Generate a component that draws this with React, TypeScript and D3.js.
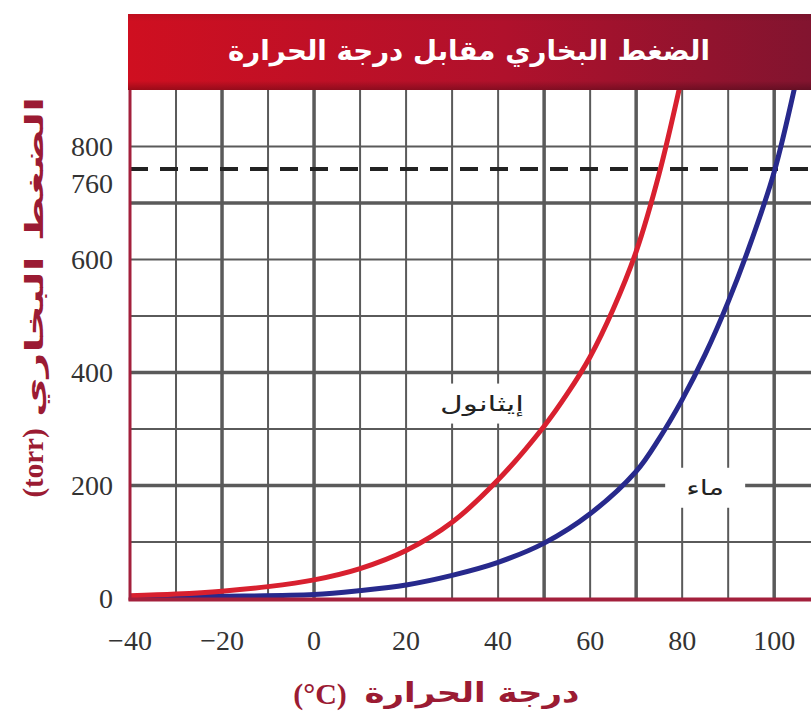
import React from "react";
import * as d3 from "d3";

// ---- data ----
const ethanolTemps = [-40, -30, -20, -10, 0, 10, 20, 30, 40, 50, 55, 60, 65, 70, 75, 80];
const ethanolPress = [5, 8, 13, 21, 33, 53, 85, 135, 210, 305, 362, 428, 512, 614, 752, 925];
const waterTemps = [-40, -20, 0, 10, 20, 30, 40, 50, 60, 70, 75, 80, 85, 90, 95, 100, 105];
const waterPress = [3, 4, 7, 14, 24, 41, 64, 98, 150, 225, 283, 352, 432, 525, 632, 755, 925];

const xTicks = [-40, -20, 0, 20, 40, 60, 80, 100];
const xTickLabels = ["−40", "−20", "0", "20", "40", "60", "80", "100"];
const yTicks = [0, 200, 400, 600, 760, 800];
const yTickLabels = ["0", "200", "400", "600", "760", "800"];
const xGrid = [-30, -20, -10, 0, 10, 20, 30, 40, 50, 60, 70, 80, 90, 100];
const xGridThick = [-20, 0, 50, 70, 100];
const yGrid = [100, 200, 300, 400, 500, 600, 700, 800];
const yGridThick = [200, 400, 700];
const boilingLine = 760;

const title = "الضغط البخاري مقابل درجة الحرارة";
const yTitleArabic = "الضغط البخاري";
const yTitleUnit = "(torr)";
const xTitleArabic = "درجة الحرارة";
const xTitleUnit = "(°C)";
const ethanolLabel = "إيثانول";
const waterLabel = "ماء";
const ethanolLabelAt = [36.5, 345];
const waterLabelAt = [85, 196];

export default function App() {
  const W = 811;
  const H = 721;
  const left = 130;
  const right = 811;
  const top = 90;
  const bottom = 598.5;

  const x = d3.scaleLinear().domain([-40, 108]).range([left, right]);
  const y = d3.scaleLinear().domain([0, 900]).range([bottom, top]);

  const line = d3
    .line<[number, number]>()
    .x((d) => x(d[0]))
    .y((d) => y(d[1]))
    .curve(d3.curveCatmullRom.alpha(0.5));

  const eth = ethanolTemps.map((t, i) => [t, ethanolPress[i]] as [number, number]);
  const wat = waterTemps.map((t, i) => [t, waterPress[i]] as [number, number]);

  const gridColor = "#5a5a5a";
  const border = "#a3203c";
  const dark = "#9b1b33";
  const arabic = "'DejaVu Sans', 'Noto Sans', sans-serif";
  const serif = "'Liberation Serif', 'DejaVu Serif', serif";

  const ex = x(ethanolLabelAt[0]);
  const ey = y(ethanolLabelAt[1]);
  const wx = x(waterLabelAt[0]);
  const wy = y(waterLabelAt[1]);

  return (
    <svg
      width={W}
      height={H}
      style={{ position: "absolute", left: 0, top: 0, background: "#fff" }}
    >
      <defs>
        <linearGradient id="tbar" x1="0" x2="1" y1="0" y2="0">
          <stop offset="0%" stopColor="#cf0f20" />
          <stop offset="55%" stopColor="#b0112c" />
          <stop offset="100%" stopColor="#82142f" />
        </linearGradient>
        <linearGradient id="tshade" x1="0" x2="0" y1="0" y2="1">
          <stop offset="0%" stopColor="#000" stopOpacity="0.08" />
          <stop offset="10%" stopColor="#000" stopOpacity="0" />
          <stop offset="88%" stopColor="#000" stopOpacity="0" />
          <stop offset="100%" stopColor="#000" stopOpacity="0.25" />
        </linearGradient>
        <clipPath id="plotclip">
          <rect x={left} y={top} width={right - left} height={bottom - top} />
        </clipPath>
      </defs>

      {/* grid */}
      <g>
        {xGrid.map((v) => (
          <line
            key={"vx" + v}
            x1={x(v)}
            x2={x(v)}
            y1={top}
            y2={bottom}
            stroke={gridColor}
            strokeWidth={xGridThick.includes(v) ? 3.5 : 2}
          />
        ))}
        {yGrid.map((v) => (
          <line
            key={"hy" + v}
            x1={left}
            x2={right}
            y1={y(v)}
            y2={y(v)}
            stroke={gridColor}
            strokeWidth={yGridThick.includes(v) ? 3.5 : 2}
          />
        ))}
        <line
          x1={left}
          x2={right}
          y1={y(boilingLine)}
          y2={y(boilingLine)}
          stroke="#222"
          strokeWidth={4}
          strokeDasharray="18 12"
        />
      </g>

      {/* label backgrounds */}
      <rect x={ex - 47} y={ey - 20} width={94} height={40} fill="#fff" />
      <rect x={wx - 40} y={wy - 20} width={80} height={40} fill="#fff" />

      {/* curves */}
      <g clipPath="url(#plotclip)">
        <path d={line(wat) || ""} fill="none" stroke="#27298c" strokeWidth={5} />
        <path d={line(eth) || ""} fill="none" stroke="#d8202f" strokeWidth={5} />
      </g>

      {/* plot border */}
      <line x1={left} x2={left} y1={top} y2={bottom + 2} stroke={border} strokeWidth={3} />
      <line x1={left - 1.5} x2={right} y1={bottom + 1} y2={bottom + 1} stroke={border} strokeWidth={4} />

      {/* title bar */}
      <rect x={128} y={14} width={W - 128} height={top - 14} fill="url(#tbar)" />
      <rect x={128} y={14} width={W - 128} height={top - 14} fill="url(#tshade)" />
      <text
        x={469}
        y={50}
        fill="#fff"
        fontFamily={arabic}
        fontWeight="bold"
        fontSize={27}
        textAnchor="middle"
        dominantBaseline="central"
        direction="rtl"
        textLength={482}
        lengthAdjust="spacingAndGlyphs"
      >
        {title}
      </text>

      {/* curve labels */}
      <text
        x={ex}
        y={ey}
        fill="#222"
        fontFamily={arabic}
        fontSize={21}
        textAnchor="middle"
        dominantBaseline="central"
        direction="rtl"
        textLength={84}
        lengthAdjust="spacingAndGlyphs"
      >
        {ethanolLabel}
      </text>
      <text
        x={wx}
        y={wy}
        fill="#222"
        fontFamily={arabic}
        fontSize={21}
        textAnchor="middle"
        dominantBaseline="central"
        direction="rtl"
        textLength={38}
        lengthAdjust="spacingAndGlyphs"
      >
        {waterLabel}
      </text>

      {/* y tick labels */}
      {yTicks.map((v, i) => (
        <text
          key={"yt" + v}
          x={113}
          y={y(v) + (v === 760 ? 14 : 0)}
          fill="#333"
          fontFamily={serif}
          fontSize={28}
          textAnchor="end"
          dominantBaseline="central"
        >
          {yTickLabels[i]}
        </text>
      ))}

      {/* x tick labels */}
      {xTicks.map((v, i) => (
        <text
          key={"xt" + v}
          x={x(v)}
          y={650}
          fill="#333"
          fontFamily={serif}
          fontSize={28}
          textAnchor="middle"
        >
          {xTickLabels[i]}
        </text>
      ))}

      {/* axis titles */}
      <text
        transform={`translate(34, 257) rotate(-90)`}
        fill={dark}
        fontFamily={arabic}
        fontWeight="bold"
        fontSize={25}
        textAnchor="middle"
        dominantBaseline="central"
        direction="rtl"
        textLength={320}
        lengthAdjust="spacingAndGlyphs"
      >
        {yTitleArabic}
      </text>
      <text
        transform={`translate(33, 463) rotate(-90)`}
        fill={dark}
        fontFamily={serif}
        fontWeight="bold"
        fontSize={29}
        textAnchor="middle"
        dominantBaseline="central"
      >
        {yTitleUnit}
      </text>
      <text
        x={472}
        y={692}
        fill={dark}
        fontFamily={arabic}
        fontWeight="bold"
        fontSize={27}
        textAnchor="middle"
        dominantBaseline="central"
        direction="rtl"
        textLength={215}
        lengthAdjust="spacingAndGlyphs"
      >
        {xTitleArabic}
      </text>
      <text
        x={320}
        y={693}
        fill={dark}
        fontFamily={serif}
        fontWeight="bold"
        fontSize={30}
        textAnchor="middle"
        dominantBaseline="central"
      >
        {xTitleUnit}
      </text>
    </svg>
  );
}
